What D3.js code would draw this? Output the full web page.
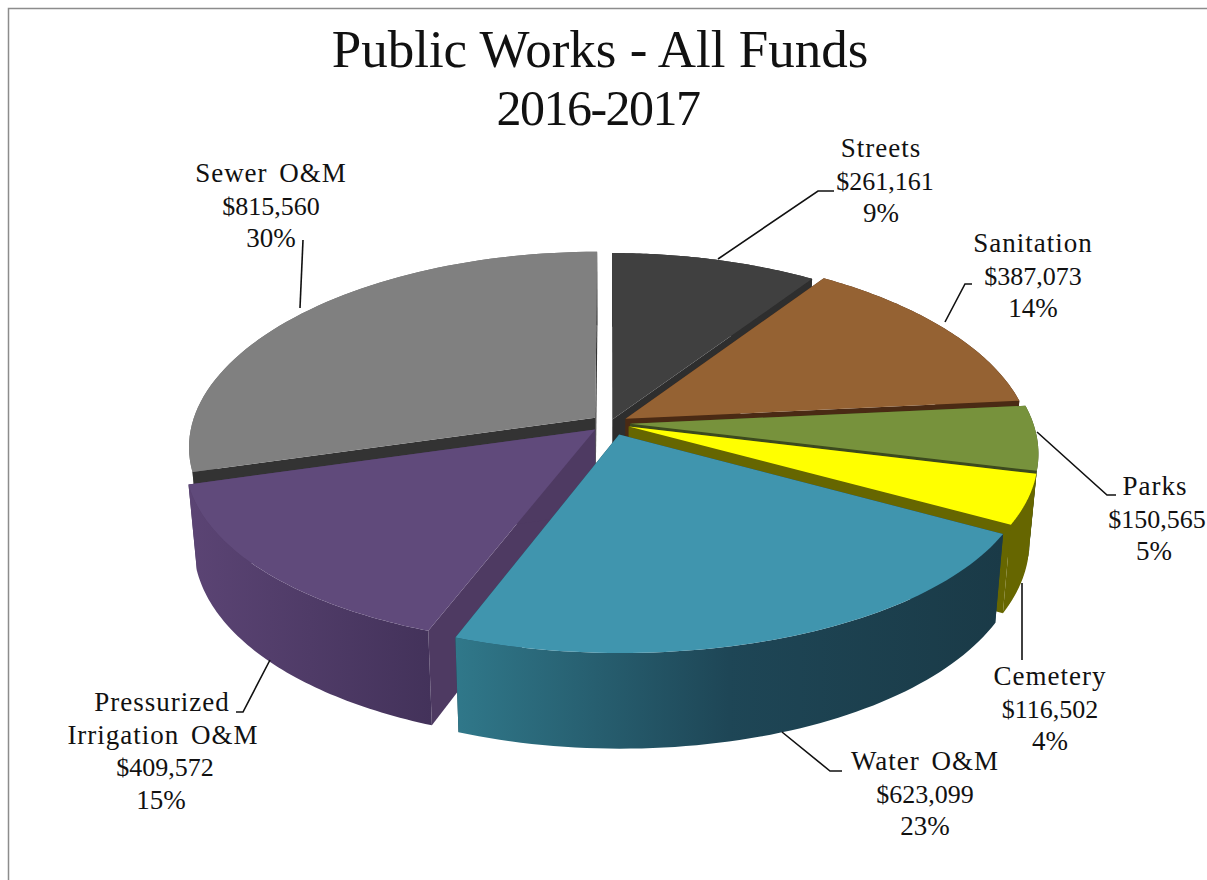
<!DOCTYPE html>
<html><head><meta charset="utf-8">
<script src="https://cdn.jsdelivr.net/npm/d3@7"></script>
<style>html,body{margin:0;padding:0;background:#fff;overflow:hidden}
text{font-family:"Liberation Serif",serif;fill:#111}</style></head>
<body><svg id="c" width="1207" height="880"></svg>
<script>
const categories=["Streets","Sanitation","Parks","Cemetery","Water O&M","Pressurized Irrigation O&M","Sewer O&M"];
const values=[261161,387073,150565,116502,623099,409572,815560];
const percents=["9%","14%","5%","4%","23%","15%","30%"];
const topColors=["#404040","#956233","#77923c","#ffff00","#4095ae","#604a7b","#808080"];
const wallColors=["#2e2e2e","#4a2a14","#3c4a1e","#666600","#1b3c49","#4e3a62","#333333"];
const rimLeft=["#2e2e2e","#4a2a14","#3c4a1e","#666600","#30788a","#5b4474","#6e6e6e"];
const rimRight=["#2e2e2e","#4a2a14","#3c4a1e","#666600","#1a3a47","#43325a","#6e6e6e"];
const explode=[0.02,0.045,0.05,0.05,0.065,0.05,0.046];
const titleLines=["Public Works - All Funds","2016-2017"];
// label layout: centre x, first line y, lines, leader
const labels=[
 {i:0,lines:["Streets","$261,161","9%"],x:[881,885,881],y:157,lead:[[718,259],[818,191],[834,191]]},
 {i:1,lines:["Sanitation","$387,073","14%"],x:1033,y:252,lead:[[945,322],[965,284],[972,284]]},
 {i:2,lines:["Parks","$150,565","5%"],x:[1155,1157,1154],y:495,lead:[[1037,432],[1107,495],[1116,495]]},
 {i:3,lines:["Cemetery","$116,502","4%"],x:1050,y:685,lead:[[1022,583],[1022,660]]},
 {i:4,lines:["Water O&M","$623,099","23%"],x:925,y:770,lead:[[782,732],[830,771],[842,771]]},
 {i:5,lines:["Pressurized","Irrigation O&M","$409,572","15%"],x:[162,163,165,161],y:711,lead:[[270,660],[243,712],[236,712]]},
 {i:6,lines:["Sewer O&M","$815,560","30%"],x:271,y:182,lead:[[300,308],[303,240]]}
];
const cx=610,cy=423,R=403,T=188,px=0.15,py=0.125,H=83,shrink=0.98;
const svg=d3.select("#c");
const defs=svg.append("defs");
svg.append("path").attr("d","M8.5,880V8.5H1207").attr("fill","none").attr("stroke","#8c8c8c").attr("stroke-width",1.5);

const arcs=d3.pie().sort(null).value(d=>d)(values);
function proj(th,r,e,mid,low){
  const u=r*Math.sin(th)+e*Math.sin(mid), v=r*Math.cos(th)+e*Math.cos(mid);
  let x=cx+R*u/(1+px*v), y=cy-T*v/(1+py*v);
  if(low){x=cx+(x-cx)*shrink; y=y+H/(1+py*v);}
  return [x,y];
}
const line=d3.line();
const mids=arcs.map(a=>(a.startAngle+a.endAngle)/2);
const order=d3.range(arcs.length).sort((a,b)=>Math.cos(mids[b])-Math.cos(mids[a]));
order.forEach(i=>{
  const a=arcs[i],mid=mids[i],e=explode[i];
  const ths=d3.range(0,61).map(k=>a.startAngle+(a.endAngle-a.startAngle)*k/60);
  const g=svg.append("g");
  const wall=t=>g.append("path").attr("d",line([proj(t,0,e,mid,false),proj(t,1,e,mid,false),proj(t,1,e,mid,true),proj(t,0,e,mid,true)])+"Z").attr("fill",wallColors[i]);
  const back=Math.cos(mid)>0;
  if(!back){wall(a.startAngle);wall(a.endAngle);}
  const topPts=ths.map(t=>proj(t,1,e,mid,false));
  const lowPts=ths.map(t=>proj(t,1,e,mid,true));
  const xs=topPts.concat(lowPts).map(p=>p[0]);
  const gid="rim"+i;
  const gr=defs.append("linearGradient").attr("id",gid).attr("gradientUnits","userSpaceOnUse")
    .attr("x1",d3.min(xs)).attr("x2",d3.max(xs)).attr("y1",0).attr("y2",0);
  gr.append("stop").attr("offset",0).attr("stop-color",rimLeft[i]);
  if(i===4) gr.append("stop").attr("offset",0.5).attr("stop-color","#1e4656");
  gr.append("stop").attr("offset",1).attr("stop-color",rimRight[i]);
  g.append("path").attr("d",line(topPts.concat(lowPts.slice().reverse()))+"Z").attr("fill",`url(#${gid})`);
  if(back){wall(a.startAngle);wall(a.endAngle);}
  g.append("path").attr("d",line([proj(0,0,e,mid,false)].concat(topPts))+"Z").attr("fill",topColors[i]);
});

labels.forEach(l=>{
  svg.append("path").attr("d",line(l.lead)).attr("fill","none").attr("stroke","#111").attr("stroke-width",1.6);
  l.lines.forEach((t,k)=>{
    const money=t[0]==="$", pct=t.endsWith("%");
    svg.append("text").attr("x",Array.isArray(l.x)?l.x[k]:l.x).attr("y",l.y+k*32.7)
      .attr("text-anchor","middle")
      .attr("font-size",money?26:27)
      .attr("letter-spacing",money||pct?0:1)
      .attr("word-spacing",money||pct?0:4)
      .text(t);
  });
});
titleLines.forEach((t,k)=>{
  svg.append("text").attr("x",k?598:600).attr("y",67+k*58).attr("text-anchor","middle")
    .attr("font-size",k?50:53).attr("letter-spacing",k?-1.5:0).text(t);
});
</script></body></html>
